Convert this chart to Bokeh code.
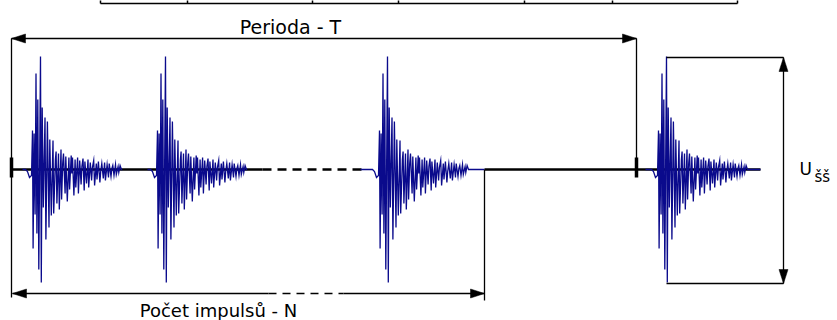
from bokeh.plotting import figure
from bokeh.models import Range1d
from bokeh.core.properties import value
from bokeh.embed import file_html
from bokeh.resources import INLINE

# ---- data (pixel-like units; y = amplitude above the baseline) ----
# one acoustic-emission burst: (offset from burst start, amplitude)
burst_shape = [(0, 0), (2, -2), (4, -8), (6, -6), (7, 39), (7.6, -79), (8.6, 36), (9.6, -45),
               (10.5, 96), (11.4, -64), (12.3, 70), (13.3, -100), (15, 113), (15.8, -113),
               (16.7, 62), (17.8, -38), (19.5, 52), (20.4, -70), (21.9, 48), (23.5, -58),
               (24.3, 30), (25.8, -46), (27.5, 29), (28.2, -44), (29.9, 10), (30.6, 18),
               (31.4, -34), (33, 16), (33.8, -40), (35.5, 20), (36.1, -30), (37.2, 6),
               (38, 16), (39.6, -24), (40.3, 13), (41.8, -32), (43.4, 12), (44.1, -20),
               (45.7, 14), (46.3, -4), (47, 12), (48.4, -26), (49.6, 10), (50.3, -18),
               (52.1, 12), (52.9, -24), (54.2, 9), (55.6, -15), (56.4, 3), (57.5, 11),
               (58.7, -21), (59.4, 8), (61, -14), (62.5, 10), (63.2, -18), (64.8, 7),
               (66.1, -11), (66.9, 2), (68.2, 9), (69.1, -16), (70.8, 6), (71.5, -10),
               (72.9, 8), (74.4, -13), (75.2, -2), (76.3, 6), (77.8, -9), (79.1, 7),
               (79.9, -11), (81.6, 5), (83, -8), (83.7, 6), (85.5, -7), (86.4, 1),
               (87.3, 4), (88.5, -6), (90, 5), (90.8, -5), (92.6, 3), (93.3, -3),
               (94.6, 4), (96, 0)]
burst_starts = [25, 150, 372, 651]
trace_starts = [22, 147, 360, 645]
trace_ends = [120, 245, 484, 760]

baseline_solid = [(11, 262), (484, 760)]
baseline_dashed = [(262, 365)]
pulse_ticks = [11, 636]

period_y = 131
period_x = (11, 636)
count_y = -124
count_solid = [(12, 268), (343, 484)]
count_dashed = [(268, 343)]
count_x = (12, 484)

box_x = (666, 783)
box_top, box_bottom = 112, -114

table_y = 166
table_x = [100, 187, 312, 398, 524, 612, 737]

BLUE = "#0a0a8c"

p = figure(width=837, height=320, x_range=Range1d(0, 837), y_range=Range1d(-151, 169),
           output_backend="svg", toolbar_location=None, min_border=0,
           x_axis_type=None, y_axis_type=None)
p.grid.visible = False
p.outline_line_color = None
p.background_fill_color = "white"
p.border_fill_color = "white"

# table fragment at the top
p.segment(x0=[table_x[0]], y0=[table_y], x1=[table_x[-1]], y1=[table_y], line_color="black", line_width=1.5)
p.segment(x0=table_x, y0=[table_y] * len(table_x), x1=table_x, y1=[175] * len(table_x),
          line_color="black", line_width=1.5)

# baseline
p.segment(x0=[a for a, b in baseline_solid], y0=[0] * len(baseline_solid),
          x1=[b for a, b in baseline_solid], y1=[0] * len(baseline_solid),
          line_color="black", line_width=2.6)
p.segment(x0=[a for a, b in baseline_dashed], y0=[0], x1=[b for a, b in baseline_dashed], y1=[0],
          line_color="black", line_width=2.6, line_dash="9 6")

# bursts
dxs = [d for d, a in burst_shape]
amps = [a for d, a in burst_shape]
xs_all, ys_all = [], []
for s, t0, t1 in zip(burst_starts, trace_starts, trace_ends):
    xs_all.append([t0] + [s + d for d in dxs] + [t1])
    ys_all.append([0] + amps + [0])
p.multi_line(xs=xs_all, ys=ys_all, line_color=BLUE, line_width=1.3, line_join="miter")

# pulse ticks
p.rect(x=pulse_ticks, y=[2] * len(pulse_ticks), width=3.5, height=20, fill_color="black", line_color=None)

# guide lines
thin = dict(line_color="black", line_width=1.3)
p.segment(x0=[period_x[0]], y0=[period_y], x1=[period_x[0]], y1=[-128], **thin)
p.segment(x0=[period_x[1]], y0=[period_y], x1=[period_x[1]], y1=[6], **thin)
p.segment(x0=[period_x[0]], y0=[period_y], x1=[period_x[1]], y1=[period_y], **thin)
p.segment(x0=[count_x[1]], y0=[0], x1=[count_x[1]], y1=[-131], **thin)
p.segment(x0=[a for a, b in count_solid], y0=[count_y] * 2, x1=[b for a, b in count_solid],
          y1=[count_y] * 2, **thin)
p.segment(x0=[count_dashed[0][0]], y0=[count_y], x1=[count_dashed[0][1]], y1=[count_y],
          line_dash="8 6", **thin)
p.segment(x0=[box_x[0], box_x[0]], y0=[box_top, box_bottom], x1=[box_x[1], box_x[1]],
          y1=[box_top, box_bottom], **thin)
p.segment(x0=[box_x[1]], y0=[box_top], x1=[box_x[1]], y1=[box_bottom], **thin)

# arrow heads
HL, HW = 14, 4.5
def head(tx, ty, dx, dy):
    bx, by = tx - dx * HL, ty - dy * HL
    px, py = -dy * HW, dx * HW
    return [tx, bx + px, bx - px], [ty, by + py, by - py]

heads = [head(period_x[0], period_y, -1, 0), head(period_x[1], period_y, 1, 0),
         head(count_x[0], count_y, -1, 0), head(count_x[1], count_y, 1, 0),
         head(box_x[1], box_top, 0, 1), head(box_x[1], box_bottom, 0, -1)]
p.patches(xs=[h[0] for h in heads], ys=[h[1] for h in heads], fill_color="black", line_color="black",
          line_width=0.5)

# labels
font = value("DejaVu Sans")
p.text(x=[290], y=[143], text=["Perioda - T"], text_font=font, text_font_size="19px",
       text_align="center", text_baseline="alphabetic", text_color="black")
p.text(x=[218], y=[-141], text=["Počet impulsů - N"], text_font=font, text_font_size="18px",
       text_align="center", text_baseline="alphabetic", text_color="black")
p.text(x=[799], y=[1], text=["U"], text_font=font, text_font_size="17px",
       text_align="left", text_baseline="alphabetic", text_color="black")
p.text(x=[814], y=[-7], text=["šš"], text_font=font, text_font_size="15px",
       text_align="left", text_baseline="alphabetic", text_color="black")

open("out.html", "w").write(file_html(p, INLINE))
